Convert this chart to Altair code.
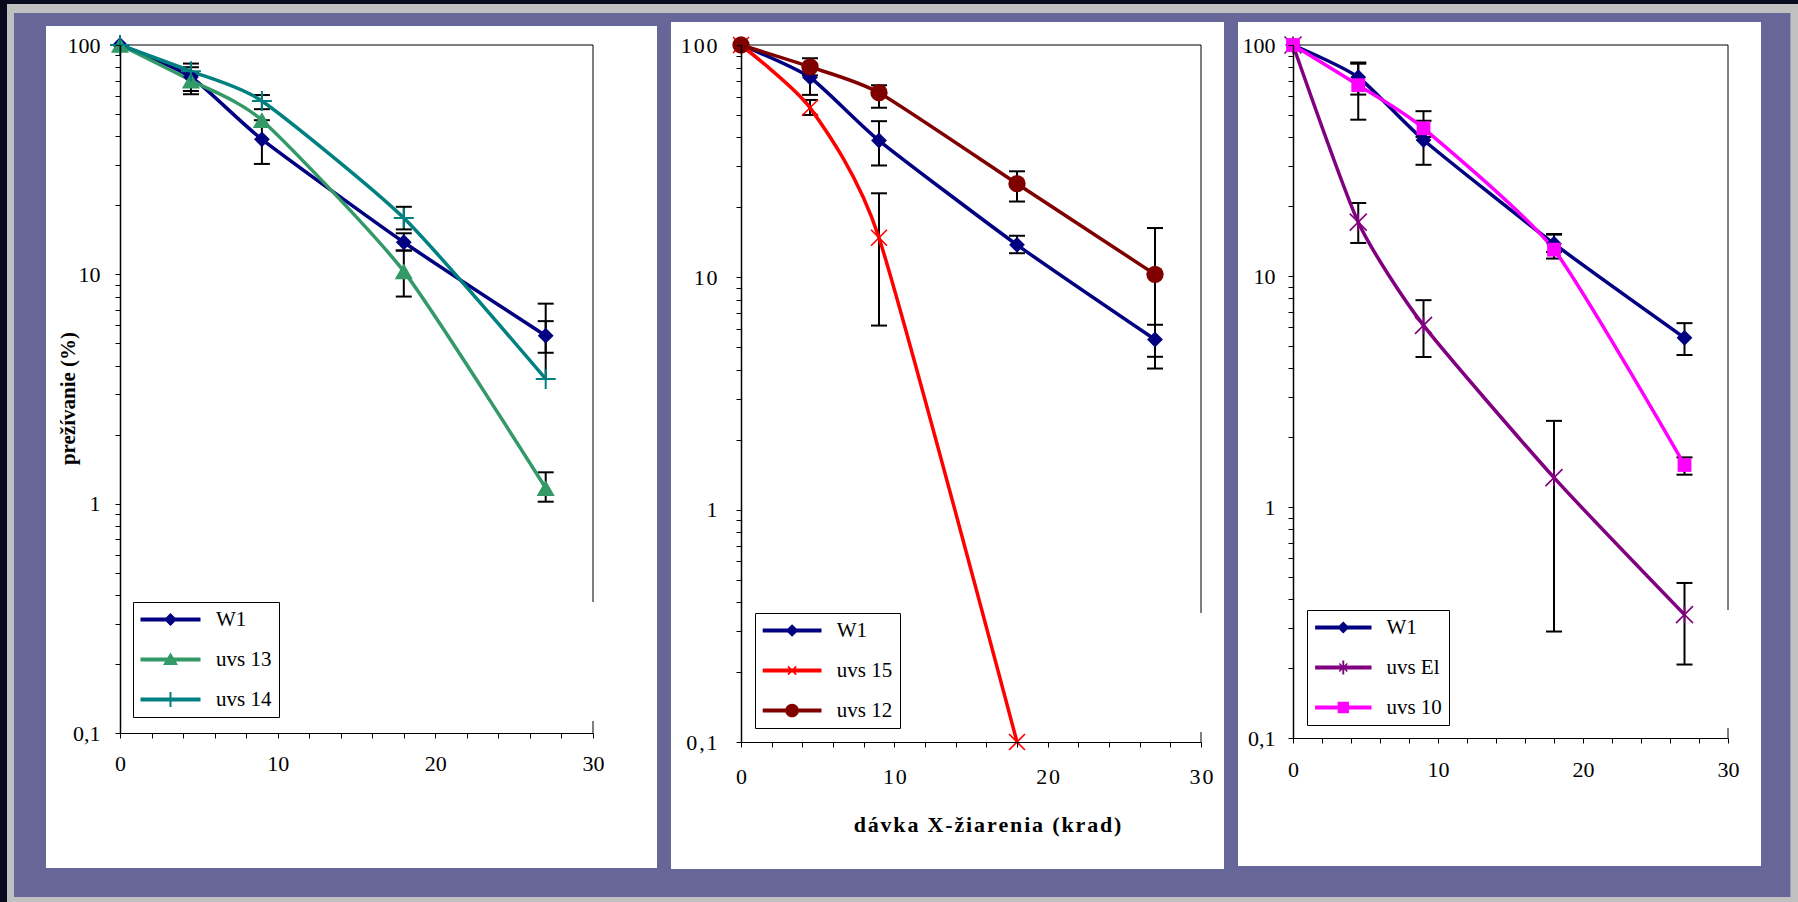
import altair as alt
import pandas as pd

# ---------------- data ----------------
DOSE = [0, 4.5, 9, 18, 27]
DOSE_UVS15 = [0, 4.5, 9, 18]

W1_Y = [100, 72.5, 38.8, 13.8, 5.4]
W1_LO = [None, 61, 30.3, 12.7, 4.55]
W1_HI = [None, 83, 47, 15.1, 6.25]

UVS13_Y = [100, 70, 47, 10.3, 1.17]
UVS13_LO = [None, 63, None, 8.0, 1.02]
UVS13_HI = [None, 76, None, 12.7, 1.37]

UVS14_Y = [100, 76.8, 57, 17.6, 3.5]
UVS14_LO = [None, 74, 52.5, 15.7, None]
UVS14_HI = [None, 80, 60.5, 19.7, 7.45]

UVS15_Y = [100, 53.7, 14.8, 0.1]
UVS15_LO = [None, 50, 6.2, None]
UVS15_HI = [None, 58, 23.0, None]

UVS12_Y = [100, 80.5, 62.3, 25.3, 10.3]
UVS12_LO = [None, 74, 53.7, 21.2, 4.05]
UVS12_HI = [None, 87.7, 67.1, 28.6, 16.3]

UVSE1_Y = [100, 17.1, 6.11, 1.34, 0.342]
UVSE1_LO = [None, 13.9, 4.46, 0.289, 0.208]
UVSE1_HI = [None, 20.7, 7.86, 2.36, 0.469]

UVS10_Y = [100, 67, 43.6, 13.0, 1.52]
UVS10_LO = [None, 47.5, 40, 11.9, 1.38]
UVS10_HI = [None, 84, 51.7, 15.2, 1.64]

X_TICKS = list(range(0, 31, 2))
X_LABELS = [0, 10, 20, 30]
Y_TICKS = [round(m * 10 ** e, 6) for e in (-1, 0, 1) for m in range(1, 10)] + [100]
Y_LABELS = {0.1: "0,1", 1: "1", 10: "10", 100: "100"}

Y_TITLE = "prežívanie (%)"
X_TITLE = "dávka X-žiarenia (krad)"

# ---------------- styles ----------------
FONT = "Liberation Serif"
BG = "#666699"
HS = "\u200a"

PLUS = "M-1,0H1M0,-1V1"
XMARK = "M-1,-1L1,1M-1,1L1,-1"
ASTER = "M-1,-1L1,1M-1,1L1,-1M0,-1V1"

LEG_LINE = "M-3,-0.2H3V0.2H-3Z"
LEG_DIAMOND = LEG_LINE + "M0,-0.65L0.65,0L0,0.65L-0.65,0Z"
LEG_TRI = LEG_LINE + "M0,-0.7L0.75,0.55L-0.75,0.55Z"
LEG_VBAR = "M-0.1,-0.75H0.1V0.75H-0.1Z"
LEG_PLUS = LEG_LINE + LEG_VBAR
LEG_X = (LEG_LINE
         + "M0.368,0.481L-0.481,-0.368L-0.368,-0.481L0.481,0.368Z"
         + "M0.481,-0.368L-0.368,0.481L-0.481,0.368L0.368,-0.481Z")
LEG_AST = LEG_X + LEG_VBAR
LEG_CIRCLE = LEG_LINE + "M0.7,0A0.7,0.7,0,1,1,-0.7,0A0.7,0.7,0,1,1,0.7,0Z"
LEG_SQUARE = LEG_LINE + "M-0.6,-0.6H0.6V0.6H-0.6Z"

SERIES = {
    "W1": dict(x=DOSE, y=W1_Y, lo=W1_LO, hi=W1_HI, color="#000080",
               mark=dict(shape="diamond", filled=True, size=250), leg=LEG_DIAMOND),
    "uvs 13": dict(x=DOSE, y=UVS13_Y, lo=UVS13_LO, hi=UVS13_HI, color="#339966",
                   mark=dict(shape="triangle-up", filled=True, size=330), leg=LEG_TRI),
    "uvs 14": dict(x=DOSE, y=UVS14_Y, lo=UVS14_LO, hi=UVS14_HI, color="#008080",
                   mark=dict(shape=PLUS, filled=False, size=400, strokeWidth=2), leg=LEG_PLUS),
    "uvs 15": dict(x=DOSE_UVS15, y=UVS15_Y, lo=UVS15_LO, hi=UVS15_HI, color="#FF0000",
                   mark=dict(shape=XMARK, filled=False, size=256, strokeWidth=1.6), leg=LEG_X),
    "uvs 12": dict(x=DOSE, y=UVS12_Y, lo=UVS12_LO, hi=UVS12_HI, color="#800000",
                   mark=dict(shape="circle", filled=True, size=300), leg=LEG_CIRCLE),
    "uvs El": dict(x=DOSE, y=UVSE1_Y, lo=UVSE1_LO, hi=UVSE1_HI, color="#800080",
                   mark=dict(shape=ASTER, filled=False, size=289, strokeWidth=1.6), leg=LEG_AST),
    "uvs 10": dict(x=DOSE, y=UVS10_Y, lo=UVS10_LO, hi=UVS10_HI, color="#FF00FF",
                   mark=dict(shape="square", filled=True, size=190), leg=LEG_SQUARE),
}

PANELS = [
    dict(names=["W1", "uvs 13", "uvs 14"], left=120, width=473, height=688,
         col=(0, 664), white=(46, 657, 26, 868), xpad=15, ypad=15, spaced=False,
         ytitle=True, xtitle=False, leg=dict(x=13, y=557, bottom=676, r=10)),
    dict(names=["W1", "uvs 15", "uvs 12"], left=741, width=460, height=697,
         col=(664, 1231), white=(671, 1224, 22, 869), xpad=19, ypad=19, spaced=True,
         ytitle=False, xtitle=True, leg=dict(x=14, y=568, bottom=687, r=9.8)),
    dict(names=["W1", "uvs El", "uvs 10"], left=1293, width=435, height=693,
         col=(1231, 1798), white=(1238, 1761, 22, 866), xpad=16, ypad=13, spaced=False,
         ytitle=False, xtitle=False, leg=dict(x=14, y=565, bottom=683, r=9.4)),
]

BANDS = [
    (0, 1798, 0, 4, "#0a0a1e"),
    (0, 7, 0, 902, "#0a0a1e"),
    (7, 1798, 4, 13, "#c0c0c0"),
    (7, 14, 4, 902, "#c0c0c0"),
    (7, 1798, 897, 902, "#c0c0c0"),
    (1791, 1798, 4, 902, "#c0c0c0"),
    (1790, 1791, 13, 897, "#9c9cc4"),
]
TOP = 45
ONE = pd.DataFrame({"d": [0]})


def spaced(s):
    return HS.join(list(s))


def label_expr(mapping):
    expr = "''"
    for v, s in reversed(list(mapping.items())):
        expr = f"datum.value == {v} ? '{s}' : ({expr})"
    return expr


def rect(x1, x2, y1, y2, color):
    return alt.Chart(ONE).mark_rect(color=color, strokeWidth=0).encode(
        x=alt.value(x1), x2=alt.value(x2), y=alt.value(y1), y2=alt.value(y2))


def build_panel(p, idx):
    L, W, H = p["left"], p["width"], p["height"]
    sp = p["spaced"]
    xmap = {v: (spaced(str(v)) if sp else str(v)) for v in X_LABELS}
    ymap = {k: (spaced(v) if sp else v) for k, v in Y_LABELS.items()}

    xaxis_kw = dict(values=X_TICKS, labelExpr=label_expr(xmap), tickSize=5, tickColor="black",
                    tickWidth=1, domainColor="black", domainWidth=1, labelColor="black",
                    labelFont=FONT, labelFontSize=22, labelPadding=p["xpad"], labelFlush=False,
                    labelOverlap=False, grid=False, zindex=1)
    if p["xtitle"]:
        xaxis_kw.update(title=spaced(X_TITLE), titleFont=FONT, titleFontSize=22,
                        titleFontWeight="bold", titleColor="black", titleX=W / 2 + 16,
                        titleY=82, titleAlign="center", titleBaseline="middle")
    else:
        xaxis_kw.update(title=None)
    yaxis_kw = dict(values=Y_TICKS, labelExpr=label_expr(ymap), tickSize=5, tickColor="black",
                    tickWidth=1, domainColor="black", domainWidth=1.5, labelColor="black",
                    labelFont=FONT, labelFontSize=22, labelPadding=p["ypad"], labelFlush=False,
                    labelOverlap=False, grid=False, zindex=1)
    if p["ytitle"]:
        yaxis_kw.update(title=Y_TITLE, titleFont=FONT, titleFontSize=21, titleFontWeight="bold",
                        titleColor="black", titleAngle=270, titleX=-52, titleY=353,
                        titleAlign="center", titleBaseline="middle")
    else:
        yaxis_kw.update(title=None)

    xs = alt.Scale(domain=[0, 30], nice=False, zero=False)
    ys = alt.Scale(type="log", domain=[0.1, 100], nice=False)
    XA = alt.Axis(**xaxis_kw)
    YA = alt.Axis(**yaxis_kw)

    def X(f):
        return alt.X(f"{f}:Q", scale=xs, axis=XA)

    def Y(f):
        return alt.Y(f"{f}:Q", scale=ys, axis=YA)

    layers = []
    # panel column background and frame bands
    c0, c1 = p["col"]
    layers.append(rect(c0 - L, c1 - L, -TOP, 902 - TOP, BG))
    wx1, wx2, wy1, wy2 = p["white"]
    layers.append(rect(wx1 - L, wx2 - L, wy1 - TOP, wy2 - TOP, "white"))
    for (bx1, bx2, by1, by2, bc) in BANDS:
        a, b = max(bx1, c0), min(bx2, c1)
        if a < b:
            layers.append(rect(a - L, b - L, by1 - TOP, by2 - TOP, bc))

    lg = p["leg"]
    # plot frame (top and right; the right one is interrupted beside the legend)
    layers.append(alt.Chart(ONE).mark_rule(color="black", strokeWidth=1).encode(
        x=alt.value(0), x2=alt.value(W), y=alt.value(0)))
    layers.append(alt.Chart(ONE).mark_rule(color="black", strokeWidth=1).encode(
        x=alt.value(W), y=alt.value(0), y2=alt.value(lg["y"])))
    layers.append(alt.Chart(ONE).mark_rule(color="black", strokeWidth=1).encode(
        x=alt.value(W), y=alt.value(lg["bottom"]), y2=alt.value(H)))

    # error bars
    for n in p["names"]:
        s = SERIES[n]
        bars, caps = [], []
        for x, y, lo, hi in zip(s["x"], s["y"], s["lo"], s["hi"]):
            if lo is None and hi is None:
                continue
            bars.append({"x": x, "lo": lo if lo is not None else y, "hi": hi if hi is not None else y})
            for v in (lo, hi):
                if v is not None:
                    caps.append({"x": x, "y": v})
        if bars:
            layers.append(alt.Chart(pd.DataFrame(bars)).mark_rule(color="black", strokeWidth=2).encode(
                x=X("x"), y=Y("lo"), y2=alt.Y2("hi")))
        if caps:
            layers.append(alt.Chart(pd.DataFrame(caps)).mark_rule(
                color="black", strokeWidth=2, xOffset=-8, x2Offset=8).encode(
                x=X("x"), x2=alt.X2("x"), y=Y("y")))

    # lines (smoothed like the spreadsheet's smoothed lines)
    for n in p["names"]:
        s = SERIES[n]
        df = pd.DataFrame({"x": s["x"], "y": s["y"]})
        layers.append(alt.Chart(df).mark_line(color=s["color"], strokeWidth=3.5,
                                              interpolate="cardinal", tension=0.4).encode(
            x=X("x"), y=Y("y")))
    # markers
    for n in p["names"]:
        s = SERIES[n]
        df = pd.DataFrame({"x": s["x"], "y": s["y"]})
        layers.append(alt.Chart(df).mark_point(color=s["color"], opacity=1, **s["mark"]).encode(
            x=X("x"), y=Y("y")))

    # legend (legend-only layer, no data rows drawn)
    r = lg["r"]
    names = p["names"]
    field = f"s{idx}"
    legend = alt.Legend(orient="none", legendX=lg["x"], legendY=lg["y"], title=None,
                        direction="vertical", fillColor="white", strokeColor="black",
                        padding=7, rowPadding=18, labelFont=FONT, labelFontSize=21,
                        labelColor="black", labelLimit=300, symbolSize=(2 * r) ** 2,
                        symbolOffset=2 * r, labelOffset=4 * r - 5, symbolStrokeWidth=0,
                        symbolOpacity=1)
    leg_df = pd.DataFrame({field: names})
    layers.append(alt.Chart(leg_df).transform_filter("false").mark_point(
        filled=True, opacity=1, size=(2 * r) ** 2).encode(
        color=alt.Color(f"{field}:N", scale=alt.Scale(domain=names, range=[SERIES[n]["color"] for n in names]),
                        legend=legend),
        shape=alt.Shape(f"{field}:N", scale=alt.Scale(domain=names, range=[SERIES[n]["leg"] for n in names]),
                        legend=legend)))

    return alt.layer(*layers).properties(width=W, height=H)


chart = alt.hconcat(*[build_panel(p, i) for i, p in enumerate(PANELS)], spacing=0).resolve_scale(
    color="independent", shape="independent").resolve_legend(
    color="independent", shape="independent").properties(
    background=BG, padding=0).configure_view(strokeWidth=0)

chart.save("out.html", embed_options={"renderer": "svg", "actions": False})
